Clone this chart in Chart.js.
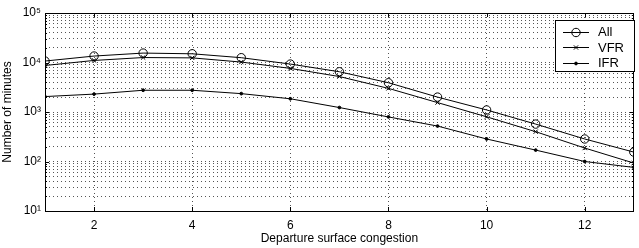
<!DOCTYPE html>
<html>
<head>
<meta charset="utf-8">
<script src="https://cdn.jsdelivr.net/npm/chart.js@4.4.0/dist/chart.umd.min.js"></script>
<style>
  html, body { margin: 0; padding: 0; background: #fff; }
  #wrap { width: 639px; height: 248px; position: relative; }
</style>
</head>
<body>
<div id="wrap"><canvas id="chart"></canvas></div>
<script>
const congestion = [1, 2, 3, 4, 5, 6, 7, 8, 9, 10, 11, 12, 13];
const allMinutes = [10700, 13500, 15500, 15000, 12500, 9300, 6500, 3900, 2000, 1100, 570, 285, 155];
const vfrMinutes = [8700, 11000, 12600, 12400, 10200, 7600, 5200, 3000, 1550, 800, 400, 187, 93];
const ifrMinutes = [2050, 2300, 2750, 2750, 2350, 1850, 1230, 795, 520, 285, 170, 100, 76];
const xTicks = [2, 4, 6, 8, 10, 12];
const decades = [10, 100, 1000, 10000, 100000];
const supers = { 1: '\u00b9', 2: '\u00b2', 3: '\u00b3', 4: '\u2074', 5: '\u2075' };

const FONT = "'Liberation Sans', Arial, sans-serif";

// every 1..9 x 10^k between 10 and 1e5
const yGridValues = [];
decades.forEach((d, i) => {
    if (i === decades.length - 1) { yGridValues.push(d); return; }
    for (let m = 1; m <= 9; m++) yGridValues.push(m * d);
});

function toPoints(values) {
    return congestion.map((x, i) => ({ x: x, y: values[i] }));
}

const frameAndTicks = {
    id: 'frameAndTicks',
    beforeDatasetsDraw(chart) {
        const { ctx, chartArea: a, scales } = chart;
        ctx.save();
        ctx.strokeStyle = '#000';
        ctx.lineWidth = 1;
        ctx.beginPath();
        xTicks.forEach(v => {
            const px = Math.round(scales.x.getPixelForValue(v)) + 0.5;
            ctx.moveTo(px, a.bottom); ctx.lineTo(px, a.bottom - 4);
            ctx.moveTo(px, a.top); ctx.lineTo(px, a.top + 4);
        });
        yGridValues.forEach(v => {
            const py = Math.round(scales.y.getPixelForValue(v)) + 0.5;
            const len = decades.includes(v) ? 4 : 2;
            ctx.moveTo(a.left, py); ctx.lineTo(a.left + len, py);
            ctx.moveTo(a.right, py); ctx.lineTo(a.right - len, py);
        });
        ctx.stroke();
        ctx.strokeRect(Math.round(a.left) + 0.5, Math.round(a.top) + 0.5,
            Math.round(a.right - a.left) - 1, Math.round(a.bottom - a.top));
        ctx.restore();
    },
    afterDraw(chart) {
        const { ctx } = chart;
        const box = { left: 555, top: 20, width: 79, height: 51 };
        ctx.save();
        ctx.fillStyle = '#fff';
        ctx.fillRect(box.left, box.top, box.width, box.height);
        ctx.strokeStyle = '#000';
        ctx.lineWidth = 1;
        ctx.strokeRect(box.left + 0.5, box.top + 0.5, box.width, box.height);
        chart.data.datasets.forEach((ds, i) => {
            const y = box.top + 11.5 + i * 15.5;
            ctx.strokeStyle = '#000';
            ctx.lineWidth = 1;
            ctx.beginPath();
            ctx.moveTo(box.left + 8, Math.round(y) + 0.5);
            ctx.lineTo(box.left + 34, Math.round(y) + 0.5);
            ctx.stroke();
            ctx.fillStyle = ds.pointBackgroundColor;
            ctx.strokeStyle = '#000';
            Chart.helpers.drawPoint(ctx, {
                pointStyle: ds.pointStyle, radius: ds.pointRadius, borderWidth: 1, rotation: 0
            }, box.left + 21, Math.round(y) + 0.5);
            ctx.fillStyle = '#000';
            ctx.font = '13px ' + FONT;
            ctx.textBaseline = 'middle';
            ctx.textAlign = 'left';
            ctx.fillText(ds.label, box.left + 43, y + 1);
        });
        ctx.restore();
    }
};

const dotted = { color: '#555', lineWidth: 1, drawTicks: false };

new Chart(document.getElementById('chart'), {
    type: 'line',
    data: {
        datasets: [
            { label: 'All', data: toPoints(allMinutes), borderColor: '#000', borderWidth: 1,
              pointStyle: 'circle', pointRadius: 4.2, pointBackgroundColor: 'rgba(0,0,0,0)',
              pointBorderColor: '#000', pointBorderWidth: 1, tension: 0 },
            { label: 'VFR', data: toPoints(vfrMinutes), borderColor: '#000', borderWidth: 1,
              pointStyle: 'crossRot', pointRadius: 3, pointBackgroundColor: 'rgba(0,0,0,0)',
              pointBorderColor: '#000', pointBorderWidth: 1, tension: 0 },
            { label: 'IFR', data: toPoints(ifrMinutes), borderColor: '#000', borderWidth: 1,
              pointStyle: 'circle', pointRadius: 1.4, pointBackgroundColor: '#000',
              pointBorderColor: '#000', pointBorderWidth: 1, tension: 0 }
        ]
    },
    options: {
        responsive: true,
        maintainAspectRatio: false,
        animation: false,
        events: [],
        layout: { padding: { top: 13, right: 1, left: 0, bottom: 0 } },
        plugins: { legend: { display: false }, tooltip: { enabled: false } },
        scales: {
            x: {
                type: 'linear', min: 1, max: 13,
                afterBuildTicks: (scale) => { scale.ticks = xTicks.map(v => ({ value: v })); },
                afterFit: (scale) => { scale.height = 37; },
                grid: dotted,
                border: { display: false, dash: [1, 3] },
                ticks: { color: '#000', padding: 7, maxRotation: 0, font: { family: FONT, size: 12 } },
                title: { display: true, text: 'Departure surface congestion', color: '#000',
                         font: { family: FONT, size: 12 }, padding: { top: 0, bottom: 2 } }
            },
            y: {
                type: 'logarithmic', min: 10, max: 100000,
                afterBuildTicks: (scale) => { scale.ticks = yGridValues.map(v => ({ value: v, major: decades.includes(v) })); },
                afterFit: (scale) => { scale.width = 45; },
                grid: dotted,
                border: { display: false, dash: [1, 3] },
                ticks: {
                    color: '#000', padding: 4, autoSkip: false, font: { family: FONT, size: 12 },
                    callback: (v) => {
                        if (!decades.includes(v)) return '';
                        return '10' + supers[Math.round(Math.log10(v))];
                    }
                },
                title: { display: true, text: 'Number of minutes', color: '#000',
                         font: { family: FONT, size: 12 }, padding: { top: 0, bottom: 1 } }
            }
        }
    },
    plugins: [frameAndTicks]
});
</script>
</body>
</html>
